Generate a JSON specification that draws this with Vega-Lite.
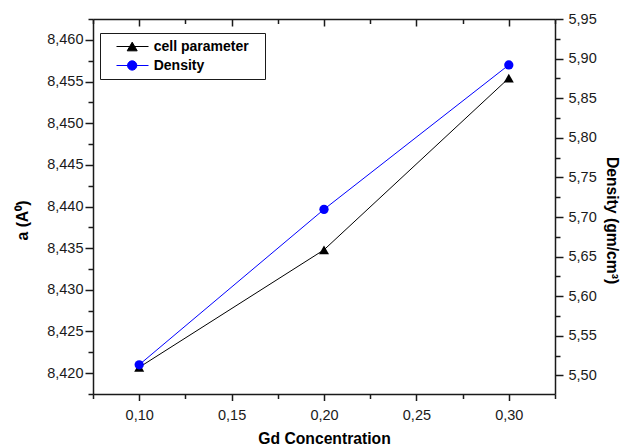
{
  "$schema": "https://vega.github.io/schema/vega-lite/v6.json",
  "width": 462,
  "height": 375,
  "autosize": "none",
  "padding": {"left": 93, "top": 19, "right": 67, "bottom": 54},
  "background": "white",
  "config": {
    "view": {"stroke": null},
    "axis": {
      "grid": false,
      "domainColor": "#1a1a1a",
      "domainWidth": 1.5,
      "tickColor": "#1a1a1a",
      "tickWidth": 1.5,
      "labelFont": "Liberation Sans",
      "labelFontSize": 14.5,
      "labelColor": "#1a1a1a",
      "labelFlush": false,
      "titleFont": "Liberation Sans",
      "titleFontSize": 15.7,
      "titleFontWeight": "bold",
      "titleColor": "#000000"
    }
  },
  "data": {
    "values": [
      {"series": "cell parameter", "gd": 0.1, "value": 8.4207},
      {"series": "cell parameter", "gd": 0.2, "value": 8.4348},
      {"series": "cell parameter", "gd": 0.3, "value": 8.4554},
      {"series": "Density", "gd": 0.1, "value": 5.5135},
      {"series": "Density", "gd": 0.2, "value": 5.7097},
      {"series": "Density", "gd": 0.3, "value": 5.892}
    ]
  },
  "encoding": {
    "color": {
      "field": "series",
      "type": "nominal",
      "scale": {"domain": ["cell parameter", "Density"], "range": ["#000000", "#0000ff"]},
      "legend": {
        "orient": "none",
        "legendX": 7,
        "legendY": 14,
        "title": null,
        "strokeColor": "#1a1a1a",
        "fillColor": "white",
        "padding": 6,
        "rowPadding": 4,
        "labelOffset": 32.7,
        "labelFont": "Liberation Sans",
        "labelFontSize": 14,
        "labelFontWeight": "bold",
        "labelColor": "#000000",
        "symbolSize": 196,
        "encode": {
          "symbols": {
            "update": {
              "shape": {"signal": "datum.value === 'Density' ? 'M0.43,0H5M2.006,0A0.664,0.664 0 1,0 3.334,0A0.664,0.664 0 1,0 2.006,0ZM20.4,0' : 'M0.43,0H5M2.67,-0.62L3.384,0.62L1.956,0.62ZM20.4,0'"},
              "fill": {"signal": "datum.value === 'Density' ? '#0000ff' : '#000000'"},
              "stroke": {"signal": "datum.value === 'Density' ? '#0000ff' : '#000000'"},
              "strokeWidth": {"value": 1},
              "size": {"value": 196},
              "opacity": {"value": 1},
              "fillOpacity": {"value": 1}
            }
          }
        }
      }
    }
  },
  "layer": [
    {
      "transform": [{"filter": "datum.series === 'cell parameter'"}],
      "encoding": {
        "x": {
          "field": "gd",
          "type": "quantitative",
          "scale": {"domain": [0.075, 0.325], "nice": false, "zero": false},
          "axis": {
            "orient": "bottom",
            "title": "Gd Concentration",
            "values": [0.075, 0.1, 0.125, 0.15, 0.175, 0.2, 0.225, 0.25, 0.275, 0.3, 0.325],
            "labelExpr": "abs(datum.value*20 - round(datum.value*20)) < 0.001 ? replace(format(datum.value, '.2f'), '.', ',') : ''",
            "tickSize": {"condition": {"test": "abs(datum.value*20 - round(datum.value*20)) < 0.001", "value": 6.5}, "value": 4.5},
            "labelPadding": 8,
            "titlePadding": 9
          }
        },
        "y": {
          "field": "value",
          "type": "quantitative",
          "scale": {"domain": [8.4175, 8.4625], "nice": false, "zero": false},
          "axis": {
            "orient": "left",
            "title": "a (A⁰)",
            "values": [8.4175, 8.42, 8.4225, 8.425, 8.4275, 8.43, 8.4325, 8.435, 8.4375, 8.44, 8.4425, 8.445, 8.4475, 8.45, 8.4525, 8.455, 8.4575, 8.46, 8.4625],
            "labelExpr": "abs(datum.value*200 - round(datum.value*200)) < 0.001 ? replace(format(datum.value, '.3f'), '.', ',') : ''",
            "tickSize": {"condition": {"test": "abs(datum.value*200 - round(datum.value*200)) < 0.001", "value": 8}, "value": 5},
            "labelPadding": 2,
            "titlePadding": 16,
            "titleY": 201
          }
        }
      },
      "layer": [
        {"mark": {"type": "line", "strokeWidth": 1}},
        {"mark": {"type": "point", "shape": "triangle-up", "filled": true, "size": 100, "opacity": 1}}
      ]
    },
    {
      "transform": [{"filter": "datum.series === 'Density'"}],
      "encoding": {
        "x": {
          "field": "gd",
          "type": "quantitative",
          "scale": {"domain": [0.075, 0.325], "nice": false, "zero": false},
          "axis": {
            "orient": "top",
            "title": null,
            "labels": false,
            "values": [0.075, 0.1, 0.125, 0.15, 0.175, 0.2, 0.225, 0.25, 0.275, 0.3, 0.325],
            "tickSize": {"condition": {"test": "abs(datum.value*20 - round(datum.value*20)) < 0.001", "value": -7}, "value": -4.5}
          }
        },
        "y": {
          "field": "value",
          "type": "quantitative",
          "scale": {"domain": [5.4766, 5.95], "nice": false, "zero": false},
          "axis": {
            "orient": "right",
            "title": "Density (gm/cm³)",
            "values": [5.5, 5.525, 5.55, 5.575, 5.6, 5.625, 5.65, 5.675, 5.7, 5.725, 5.75, 5.775, 5.8, 5.825, 5.85, 5.875, 5.9, 5.925, 5.95],
            "labelExpr": "abs(datum.value*20 - round(datum.value*20)) < 0.001 ? replace(format(datum.value, '.2f'), '.', ',') : ''",
            "tickSize": {"condition": {"test": "abs(datum.value*20 - round(datum.value*20)) < 0.001", "value": 8}, "value": 5},
            "labelPadding": 5,
            "titlePadding": 7,
            "titleY": 201
          }
        }
      },
      "layer": [
        {"mark": {"type": "line", "strokeWidth": 1}},
        {"mark": {"type": "point", "shape": "circle", "filled": true, "size": 86, "opacity": 1}}
      ]
    }
  ],
  "resolve": {"scale": {"y": "independent"}, "axis": {"x": "independent", "y": "independent"}}
}
